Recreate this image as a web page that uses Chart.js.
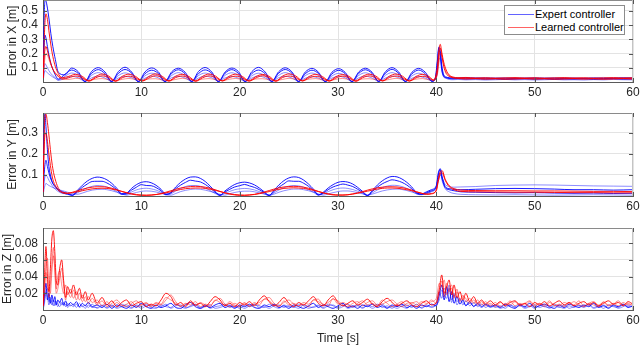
<!DOCTYPE html>
<html>
<head>
<meta charset="utf-8">
<script src="https://cdn.jsdelivr.net/npm/chart.js@4.4.1/dist/chart.umd.min.js"></script>
<style>
html,body{margin:0;padding:0;background:#fff;}
#wrap{position:relative;width:640px;height:347px;background:#fff;overflow:hidden;}
canvas{position:absolute;left:0;}
#legend{position:absolute;left:504px;top:5px;width:119px;height:28px;border:1px solid #8c8c8c;background:#fff;
 font-family:"Liberation Sans",Arial,sans-serif;font-size:11px;color:#000;z-index:5;}
#legend .ln{position:absolute;left:3px;width:26px;height:1px;}
#legend .tx{position:absolute;left:30px;white-space:nowrap;line-height:13px;}
</style>
</head>
<body>
<div id="wrap">
  <canvas id="c1" width="640" height="104" style="top:0px"></canvas>
  <canvas id="c2" width="640" height="106" style="top:112px"></canvas>
  <canvas id="c3" width="640" height="120" style="top:227px"></canvas>
  <div id="legend">
    <div class="ln" style="top:8px;background:rgba(60,60,255,0.8)"></div><div class="tx" style="top:2px">Expert controller</div>
    <div class="ln" style="top:21px;background:rgba(255,60,60,0.8)"></div><div class="tx" style="top:15px">Learned controller</div>
  </div>
</div>
<script>
// ---------------- Panel 1: Error in X ----------------
const tX = [0,0.1,0.2,0.3,0.45,0.6,0.8,1.0,1.25,
 1.55,2.23,2.91,3.59, 4.27,4.94,5.62,6.30, 6.98,7.66,8.34,9.02, 9.70,10.37,11.05,11.73, 12.41,13.09,13.77,14.45,
 15.13,15.81,16.49,17.16, 17.84,18.52,19.20,19.88, 20.56,21.24,21.92,22.60, 23.28,23.95,24.63,25.31,
 25.99,26.67,27.35,28.03, 28.71,29.39,30.07,30.74, 31.42,32.10,32.78,33.46, 34.14,34.82,35.50,36.18,
 36.86,37.53,38.21,38.89, 39.57,
 39.9,40.1,40.25,40.4,40.55,40.75,41.0,41.3,41.7,42.2,
 43,44,45,46,47,48,49,50,51,52,53,54,55,56,57,58,59,60];
const xBlue1 = [0.02,0.40,0.575,0.57,0.52,0.45,0.34,0.25,0.16,
 0.07,0.05,0.098,0.072, 0.004,0.074,0.101,0.071, 0.005,0.073,0.104,0.070, 0.003,0.071,0.099,0.072, 0.004,0.072,0.097,0.069,
 0.005,0.074,0.102,0.071, 0.003,0.070,0.098,0.073, 0.004,0.073,0.103,0.070, 0.005,0.071,0.100,0.072,
 0.004,0.070,0.096,0.068, 0.003,0.069,0.094,0.067, 0.004,0.070,0.097,0.069, 0.005,0.072,0.101,0.070,
 0.004,0.069,0.096,0.068, 0.006,
 0.025,0.13,0.245,0.22,0.12,0.05,0.035,0.03,0.028,0.027,
 0.03,0.026,0.028,0.025,0.027,0.024,0.026,0.028,0.025,0.027,0.024,0.026,0.025,0.027,0.024,0.026,0.028,0.027];
const xBlue2 = [0.01,0.22,0.33,0.31,0.25,0.19,0.13,0.09,0.05,
 0.02,0.055,0.084,0.060, 0.003,0.061,0.087,0.059, 0.004,0.060,0.088,0.062, 0.002,0.058,0.083,0.060, 0.003,0.061,0.086,0.058,
 0.004,0.059,0.085,0.061, 0.002,0.062,0.087,0.060, 0.003,0.060,0.084,0.058, 0.004,0.061,0.088,0.062,
 0.003,0.058,0.083,0.059, 0.002,0.057,0.082,0.058, 0.003,0.060,0.086,0.061, 0.004,0.062,0.089,0.060,
 0.003,0.058,0.084,0.057, 0.005,
 0.03,0.15,0.23,0.19,0.09,0.04,0.03,0.025,0.022,0.024,
 0.021,0.023,0.02,0.022,0.019,0.021,0.023,0.02,0.022,0.019,0.021,0.02,0.022,0.019,0.021,0.023,0.02,0.021];
const xBlue3 = [0,0.08,0.13,0.12,0.1,0.08,0.06,0.045,0.03,
 0.015,0.04,0.063,0.046, 0.004,0.047,0.066,0.045, 0.003,0.045,0.064,0.047, 0.005,0.044,0.062,0.046, 0.004,0.046,0.066,0.044,
 0.003,0.045,0.063,0.046, 0.005,0.047,0.065,0.045, 0.004,0.044,0.062,0.043, 0.003,0.046,0.066,0.047,
 0.004,0.045,0.063,0.044, 0.005,0.043,0.061,0.045, 0.003,0.046,0.065,0.046, 0.004,0.047,0.066,0.045,
 0.005,0.044,0.062,0.043, 0.006,
 0.02,0.09,0.19,0.2,0.1,0.045,0.03,0.027,0.026,0.03,
 0.028,0.031,0.027,0.03,0.028,0.031,0.029,0.027,0.03,0.028,0.031,0.029,0.027,0.03,0.032,0.029,0.031,0.03];
const xBlue4 = [0,0.05,0.08,0.075,0.065,0.055,0.045,0.035,0.025,
 0.012,0.025,0.04,0.03, 0.005,0.029,0.041,0.028, 0.004,0.028,0.039,0.03, 0.006,0.027,0.042,0.029, 0.005,0.03,0.04,0.028,
 0.004,0.028,0.041,0.03, 0.006,0.029,0.039,0.027, 0.005,0.028,0.042,0.029, 0.004,0.03,0.04,0.028,
 0.005,0.027,0.038,0.027, 0.006,0.028,0.04,0.029, 0.004,0.029,0.041,0.028, 0.005,0.028,0.042,0.03,
 0.006,0.027,0.039,0.027, 0.008,
 0.02,0.06,0.15,0.17,0.08,0.035,0.025,0.018,0.016,0.018,
 0.015,0.017,0.014,0.016,0.018,0.015,0.017,0.014,0.016,0.018,0.015,0.016,0.014,0.017,0.015,0.018,0.016,0.015];

const tXr = [0,0.1,0.2,0.3,0.45,0.6,0.8,1.0,1.25,1.55,
 1.95,2.63,3.31,3.99, 4.67,5.34,6.02,6.70, 7.38,8.06,8.74,9.42, 10.10,10.77,11.45,12.13, 12.81,13.49,14.17,14.85,
 15.53,16.21,16.89,17.56, 18.24,18.92,19.60,20.28, 20.96,21.64,22.32,23.00, 23.68,24.35,25.03,25.71,
 26.39,27.07,27.75,28.43, 29.11,29.79,30.47,31.14, 31.82,32.50,33.18,33.86, 34.54,35.22,35.90,36.58,
 37.26,37.93,38.61,39.29,
 39.7,40.1,40.25,40.4,40.55,40.75,41.0,41.3,41.7,42.2,
 43,44,45,46,47,48,49,50,51,52,53,54,55,56,57,58,59,60];
const xRed1 = [0,0.25,0.42,0.48,0.44,0.36,0.26,0.18,0.11,0.06,
 0.03,0.04,0.054,0.04, 0.008,0.038,0.056,0.041, 0.007,0.04,0.055,0.039, 0.009,0.039,0.057,0.04, 0.008,0.041,0.054,0.038,
 0.007,0.039,0.056,0.041, 0.009,0.04,0.055,0.039, 0.008,0.038,0.053,0.04, 0.007,0.041,0.057,0.042,
 0.009,0.039,0.054,0.038, 0.008,0.038,0.052,0.039, 0.007,0.04,0.055,0.041, 0.009,0.041,0.056,0.04,
 0.008,0.039,0.054,0.037,
 0.015,0.1,0.22,0.265,0.21,0.14,0.085,0.05,0.035,0.03,
 0.032,0.028,0.03,0.027,0.029,0.031,0.028,0.03,0.027,0.029,0.031,0.028,0.03,0.027,0.029,0.031,0.028,0.03];
const xRed2 = [0,0.15,0.23,0.25,0.22,0.18,0.13,0.09,0.06,0.04,
 0.02,0.03,0.042,0.03, 0.006,0.029,0.043,0.031, 0.005,0.03,0.041,0.029, 0.007,0.028,0.044,0.03, 0.006,0.031,0.042,0.028,
 0.005,0.029,0.043,0.031, 0.007,0.03,0.041,0.029, 0.006,0.028,0.044,0.03, 0.005,0.031,0.042,0.031,
 0.007,0.029,0.04,0.028, 0.006,0.028,0.041,0.029, 0.005,0.03,0.043,0.03, 0.007,0.031,0.042,0.029,
 0.006,0.029,0.04,0.028,
 0.012,0.07,0.18,0.24,0.19,0.11,0.06,0.04,0.03,0.026,
 0.023,0.025,0.022,0.024,0.021,0.023,0.025,0.022,0.024,0.021,0.023,0.025,0.022,0.024,0.021,0.023,0.025,0.022];
const xRed3 = [0,0.1,0.17,0.2,0.19,0.16,0.12,0.09,0.065,0.045,
 0.025,0.018,0.026,0.02, 0.012,0.02,0.024,0.016, 0.01,0.019,0.025,0.017, 0.013,0.021,0.023,0.015, 0.011,0.018,0.026,0.018,
 0.012,0.02,0.024,0.016, 0.01,0.019,0.025,0.017, 0.013,0.021,0.023,0.016, 0.011,0.018,0.026,0.018,
 0.012,0.02,0.024,0.015, 0.01,0.019,0.025,0.017, 0.013,0.021,0.023,0.016, 0.011,0.018,0.026,0.018,
 0.012,0.02,0.024,0.015,
 0.015,0.05,0.13,0.2,0.18,0.12,0.07,0.045,0.03,0.025,
 0.02,0.022,0.019,0.021,0.018,0.02,0.022,0.019,0.021,0.018,0.02,0.022,0.019,0.021,0.018,0.02,0.022,0.019];

// ---------------- Panel 2: Error in Y ----------------
const tY = [0,0.1,0.2,0.3,0.45,0.6,0.8,1.0,1.3,1.6,2.0,
 2.5,3,3.5,4,4.5,5,5.5,6,6.5,7, 7.5,8,8.5,9,9.5,10,10.5,11,11.5,12,
 12.5,13,13.5,14,14.5,15,15.5,16,16.5,17, 17.5,18,18.5,19,19.5,20,20.5,21,21.5,22,
 22.5,23,23.5,24,24.5,25,25.5,26,26.5,27, 27.5,28,28.5,29,29.5,30,30.5,31,31.5,32,
 32.5,33,33.5,34,34.5,35,35.5,36,36.5,37, 37.5,38,38.5,39,39.5,
 40,40.2,40.4,40.6,40.9,41.3,41.8,42.5,44,46,48,50,52,54,56,58,60];
const yBlue1 = [0,0.3,0.39,0.33,0.22,0.14,0.09,0.06,0.04,0.025,0.015,
 0.008,0.003,0.027,0.051,0.071,0.084,0.090,0.087,0.077,0.060,
 0.037,0.011,0.014,0.036,0.054,0.065,0.068,0.063,0.051,0.032,
 0.009,0.017,0.043,0.065,0.081,0.090,0.091,0.084,0.069,0.047,
 0.022,0.004,0.024,0.041,0.055,0.063,0.066,0.062,0.053,0.038,
 0.020,0.003,0.028,0.053,0.073,0.086,0.091,0.088,0.076,0.057,
 0.033,0.006,0.018,0.038,0.054,0.065,0.069,0.066,0.057,0.041,
 0.022,0.003,0.027,0.052,0.072,0.086,0.093,0.091,0.081,0.065,
 0.043,0.016,0.010,0.020,0.030,
 0.05,0.11,0.13,0.09,0.045,0.035,0.032,0.03,0.032,0.035,0.036,0.035,0.033,0.03,0.03,0.028,0.03];
const yBlue2 = [0,0.09,0.15,0.17,0.14,0.11,0.08,0.06,0.045,0.03,0.02,
 0.012,0.004,0.022,0.041,0.057,0.069,0.070,0.070,0.062,0.048,
 0.030,0.009,0.011,0.028,0.042,0.054,0.050,0.049,0.040,0.025,
 0.007,0.014,0.035,0.052,0.065,0.075,0.071,0.067,0.055,0.038,
 0.018,0.003,0.019,0.032,0.043,0.049,0.055,0.048,0.041,0.030,
 0.016,0.003,0.022,0.042,0.058,0.072,0.070,0.070,0.061,0.046,
 0.026,0.005,0.014,0.030,0.043,0.051,0.057,0.052,0.045,0.032,
 0.017,0.002,0.022,0.042,0.058,0.069,0.077,0.073,0.065,0.052,
 0.034,0.013,0.008,0.016,0.025,
 0.045,0.1,0.125,0.08,0.04,0.03,0.025,0.02,0.018,0.016,0.015,0.016,0.014,0.013,0.014,0.012,0.013];
const yBlue3 = [0,0.06,0.09,0.1,0.09,0.075,0.06,0.045,0.03,0.02,0.012,
 0.010,0.005,0.015,0.028,0.039,0.046,0.050,0.048,0.043,0.033,
 0.021,0.007,0.008,0.019,0.029,0.035,0.037,0.034,0.028,0.018,
 0.005,0.010,0.024,0.036,0.045,0.050,0.050,0.046,0.038,0.026,
 0.012,0.003,0.013,0.022,0.030,0.034,0.036,0.034,0.029,0.021,
 0.011,0.002,0.015,0.029,0.040,0.047,0.050,0.048,0.042,0.031,
 0.018,0.004,0.010,0.021,0.030,0.036,0.038,0.036,0.031,0.023,
 0.012,0.002,0.015,0.029,0.040,0.047,0.051,0.050,0.045,0.036,
 0.024,0.009,0.006,0.012,0.020,
 0.04,0.09,0.11,0.07,0.035,0.02,0.012,0.008,0.006,0.005,0.006,0.005,0.004,0.005,0.006,0.005,0.004];
const yBlue4 = [0,0.03,0.05,0.06,0.055,0.05,0.045,0.04,0.035,0.03,0.025,
 0.018,0.012,0.008,0.014,0.022,0.028,0.031,0.032,0.030,0.025,
 0.018,0.010,0.004,0.010,0.017,0.022,0.024,0.023,0.019,0.013,
 0.007,0.004,0.012,0.021,0.027,0.031,0.033,0.032,0.028,0.022,
 0.015,0.008,0.004,0.011,0.017,0.021,0.023,0.023,0.020,0.015,
 0.009,0.004,0.009,0.018,0.025,0.030,0.033,0.033,0.030,0.025,
 0.018,0.010,0.004,0.010,0.016,0.021,0.024,0.024,0.021,0.016,
 0.010,0.005,0.009,0.017,0.024,0.029,0.032,0.033,0.031,0.026,
 0.019,0.012,0.007,0.012,0.022,
 0.04,0.07,0.1,0.085,0.055,0.045,0.042,0.043,0.045,0.05,0.052,0.053,0.052,0.05,0.048,0.047,0.046];
const yRed1 = [0,0.25,0.38,0.39,0.35,0.29,0.2,0.13,0.07,0.035,0.015,
 0.012,0.018,0.025,0.032,0.038,0.042,0.044,0.044,0.042,0.037,
 0.030,0.022,0.015,0.009,0.005,0.003,0.003,0.004,0.007,0.012,
 0.018,0.025,0.032,0.038,0.042,0.045,0.046,0.045,0.042,0.037,
 0.030,0.022,0.015,0.009,0.005,0.003,0.003,0.005,0.008,0.013,
 0.019,0.026,0.033,0.039,0.043,0.045,0.046,0.045,0.042,0.037,
 0.030,0.022,0.015,0.009,0.005,0.004,0.004,0.006,0.010,0.015,
 0.021,0.028,0.034,0.039,0.042,0.044,0.044,0.043,0.040,0.035,
 0.028,0.020,0.013,0.008,0.010,
 0.03,0.08,0.115,0.12,0.08,0.05,0.035,0.028,0.026,0.025,0.025,0.024,0.024,0.023,0.022,0.022,0.021];
const yRed2 = [0,0.2,0.29,0.3,0.26,0.2,0.13,0.08,0.045,0.025,0.018,
 0.014,0.016,0.020,0.025,0.030,0.034,0.036,0.037,0.036,0.033,
 0.028,0.022,0.016,0.011,0.007,0.005,0.004,0.005,0.007,0.010,
 0.015,0.020,0.026,0.031,0.035,0.037,0.038,0.038,0.036,0.032,
 0.027,0.021,0.015,0.010,0.007,0.005,0.004,0.005,0.007,0.011,
 0.016,0.021,0.027,0.032,0.036,0.038,0.039,0.038,0.036,0.032,
 0.027,0.021,0.015,0.010,0.007,0.005,0.005,0.006,0.009,0.013,
 0.018,0.023,0.028,0.033,0.036,0.038,0.038,0.037,0.034,0.030,
 0.025,0.019,0.013,0.009,0.012,
 0.025,0.07,0.105,0.11,0.075,0.045,0.03,0.022,0.02,0.019,0.018,0.018,0.017,0.016,0.016,0.015,0.015];

// ---------------- Panel 3: Error in Z ----------------
const tZ = [0,0.15,0.3,0.45,0.6,0.75,0.9,1.05,1.2,1.35,1.5,1.7,1.9,2.1,2.3,2.5,2.8,3.1,3.4,3.7,4.0,4.3,4.6,5.0,
 5.5,6,6.5,7,7.5,8,8.5,9,9.5,10, 10.5,11,11.5,12,12.5,13,13.5,14,14.5,15,
 15.5,16,16.5,17,17.5,18,18.5,19,19.5,20, 20.5,21,21.5,22,22.5,23,23.5,24,24.5,25,
 25.5,26,26.5,27,27.5,28,28.5,29,29.5,30, 30.5,31,31.5,32,32.5,33,33.5,34,34.5,35,
 35.5,36,36.5,37,37.5,38,38.5,39,39.5,40,
 40.3,40.55,40.8,41.05,41.3,41.55,41.8,42.1,42.4,42.7,43.0,43.4,43.8,44.2,44.6,45.0,
 45.5,46,46.5,47,47.5,48,48.5,49,49.5,50, 50.5,51,51.5,52,52.5,53,53.5,54,54.5,55,
 55.5,56,56.5,57,57.5,58,58.5,59,59.5,60];
const zRed1 = [0,0.04,0.076,0.04,0.022,0.05,0.085,0.095,0.07,0.035,0.03,0.05,0.06,0.035,0.015,0.028,0.02,0.03,0.018,0.026,0.014,0.022,0.012,0.02,
 0.008,0.015,0.006,0.011,0.004,0.009,0.012,0.005,0.008,0.010,
 0.004,0.007,0.005,0.012,0.020,0.016,0.006,0.009,0.004,0.011,
 0.006,0.008,0.004,0.010,0.016,0.012,0.005,0.008,0.004,0.009,
 0.006,0.010,0.005,0.012,0.017,0.010,0.005,0.009,0.015,0.008,
 0.004,0.009,0.006,0.011,0.016,0.008,0.005,0.012,0.017,0.009,
 0.005,0.008,0.011,0.006,0.009,0.013,0.007,0.004,0.010,0.014,
 0.009,0.005,0.008,0.011,0.006,0.004,0.008,0.011,0.006,0.009,
 0.025,0.042,0.02,0.028,0.036,0.018,0.03,0.015,0.022,0.012,0.02,0.01,0.016,0.008,0.012,0.007,
 0.011,0.006,0.01,0.005,0.009,0.011,0.006,0.008,0.004,0.009,0.006,0.01,0.005,0.008,0.011,
 0.006,0.009,0.005,0.008,0.01,0.006,0.009,0.005,0.008,0.011,0.007,0.009,0.005,0.01,0.007];
const zRed2 = [0,0.03,0.05,0.062,0.03,0.02,0.045,0.065,0.05,0.025,0.04,0.047,0.03,0.02,0.03,0.018,0.025,0.014,0.022,0.012,0.018,0.01,0.016,0.009,
 0.012,0.005,0.010,0.004,0.009,0.005,0.007,0.010,0.004,0.006,
 0.009,0.004,0.008,0.006,0.012,0.018,0.010,0.005,0.008,0.006,
 0.010,0.004,0.007,0.006,0.011,0.014,0.007,0.004,0.008,0.005,
 0.009,0.004,0.007,0.009,0.013,0.015,0.008,0.005,0.009,0.012,
 0.007,0.005,0.009,0.007,0.012,0.013,0.006,0.009,0.013,0.011,
 0.006,0.004,0.008,0.010,0.005,0.009,0.011,0.006,0.007,0.010,
 0.012,0.007,0.004,0.008,0.009,0.006,0.010,0.008,0.010,0.014,
 0.032,0.028,0.036,0.018,0.024,0.03,0.016,0.022,0.012,0.018,0.01,0.014,0.008,0.012,0.006,0.01,
 0.005,0.009,0.004,0.008,0.006,0.01,0.005,0.008,0.011,0.006,0.008,0.004,0.009,0.006,0.005,
 0.009,0.007,0.01,0.006,0.004,0.008,0.01,0.006,0.009,0.005,0.007,0.011,0.006,0.008,0.005];
const zRed3 = [0,0.02,0.045,0.03,0.015,0.03,0.055,0.075,0.045,0.02,0.025,0.038,0.05,0.028,0.012,0.022,0.015,0.024,0.012,0.02,0.01,0.016,0.008,0.014,
 0.006,0.011,0.004,0.008,0.012,0.006,0.004,0.008,0.011,0.006,
 0.008,0.005,0.009,0.007,0.015,0.012,0.008,0.004,0.007,0.009,
 0.005,0.009,0.006,0.004,0.012,0.009,0.006,0.010,0.006,0.004,
 0.008,0.005,0.009,0.006,0.013,0.011,0.006,0.004,0.011,0.006,
 0.008,0.005,0.007,0.004,0.012,0.010,0.007,0.005,0.014,0.007,
 0.009,0.006,0.004,0.008,0.011,0.006,0.008,0.005,0.012,0.008,
 0.004,0.007,0.010,0.005,0.008,0.010,0.005,0.007,0.012,0.008,
 0.02,0.035,0.016,0.032,0.022,0.026,0.014,0.025,0.01,0.016,0.014,0.008,0.012,0.006,0.01,0.005,
 0.008,0.004,0.009,0.006,0.011,0.005,0.008,0.006,0.01,0.004,0.008,0.006,0.011,0.005,0.007,
 0.004,0.009,0.006,0.011,0.005,0.008,0.006,0.004,0.01,0.006,0.008,0.005,0.009,0.006,0.008];
const zBlue1 = [0,0.018,0.032,0.012,0.02,0.008,0.018,0.01,0.016,0.006,0.012,0.009,0.014,0.006,0.011,0.005,0.009,0.006,0.01,0.004,0.008,0.005,0.009,0.004,
 0.006,0.003,0.007,0.002,0.006,0.004,0.002,0.006,0.003,0.008,
 0.004,0.002,0.006,0.003,0.005,0.008,0.003,0.002,0.006,0.009,
 0.004,0.002,0.005,0.003,0.006,0.008,0.003,0.005,0.002,0.006,
 0.004,0.007,0.003,0.002,0.006,0.004,0.007,0.003,0.005,0.002,
 0.006,0.004,0.002,0.005,0.008,0.003,0.006,0.004,0.002,0.005,
 0.008,0.003,0.005,0.002,0.006,0.004,0.007,0.003,0.005,0.002,
 0.006,0.004,0.007,0.003,0.005,0.002,0.006,0.004,0.007,0.005,
 0.018,0.03,0.012,0.028,0.01,0.022,0.008,0.016,0.007,0.012,0.005,0.01,0.004,0.008,0.004,0.007,
 0.004,0.006,0.003,0.007,0.004,0.002,0.006,0.004,0.008,0.003,0.005,0.007,0.004,0.002,0.006,
 0.003,0.007,0.005,0.003,0.006,0.004,0.008,0.003,0.005,0.002,0.006,0.004,0.007,0.003,0.005];
const zBlue2 = [0,0.012,0.02,0.026,0.01,0.015,0.006,0.012,0.005,0.01,0.007,0.004,0.009,0.005,0.007,0.003,0.006,0.004,0.007,0.003,0.005,0.002,0.006,0.003,
 0.003,0.006,0.002,0.005,0.003,0.007,0.004,0.002,0.006,0.004,
 0.007,0.003,0.002,0.006,0.004,0.003,0.007,0.004,0.002,0.005,
 0.007,0.003,0.006,0.002,0.004,0.005,0.007,0.003,0.005,0.002,
 0.006,0.004,0.006,0.005,0.003,0.007,0.004,0.002,0.006,0.004,
 0.003,0.007,0.005,0.002,0.004,0.006,0.003,0.007,0.005,0.002,
 0.004,0.007,0.003,0.005,0.002,0.006,0.004,0.007,0.003,0.005,
 0.002,0.006,0.004,0.002,0.006,0.004,0.003,0.006,0.004,0.008,
 0.022,0.014,0.026,0.02,0.03,0.012,0.018,0.01,0.014,0.006,0.011,0.005,0.009,0.004,0.007,0.003,
 0.006,0.003,0.005,0.002,0.006,0.004,0.007,0.003,0.005,0.002,0.006,0.004,0.003,0.007,0.004,
 0.002,0.005,0.003,0.006,0.004,0.007,0.003,0.005,0.002,0.006,0.004,0.003,0.006,0.004,0.005];
const zBlue3 = [0,0.008,0.022,0.016,0.006,0.012,0.01,0.005,0.011,0.008,0.004,0.01,0.006,0.009,0.004,0.008,0.005,0.007,0.003,0.008,0.004,0.006,0.003,0.007,
 0.002,0.005,0.003,0.006,0.002,0.004,0.006,0.003,0.005,0.002,
 0.005,0.006,0.003,0.004,0.007,0.002,0.005,0.006,0.003,0.004,
 0.006,0.002,0.004,0.006,0.002,0.003,0.005,0.006,0.003,0.004,
 0.002,0.005,0.007,0.003,0.004,0.002,0.005,0.006,0.003,0.005,
 0.004,0.002,0.006,0.004,0.003,0.005,0.002,0.005,0.006,0.003,
 0.006,0.002,0.004,0.006,0.003,0.005,0.002,0.005,0.007,0.003,
 0.004,0.002,0.005,0.006,0.003,0.007,0.002,0.005,0.003,0.006,
 0.012,0.024,0.018,0.014,0.026,0.009,0.02,0.006,0.012,0.009,0.006,0.008,0.005,0.006,0.003,0.006,
 0.003,0.005,0.002,0.004,0.006,0.003,0.005,0.002,0.004,0.006,0.003,0.005,0.002,0.005,0.003,
 0.006,0.002,0.004,0.005,0.003,0.006,0.002,0.004,0.006,0.003,0.005,0.002,0.004,0.006,0.003];

// axis ticks
const xTicks = [0,10,20,30,40,50,60];
const yTicksX = [0.1,0.2,0.3,0.4,0.5];
const yTicksY = [0.1,0.2,0.3];
const yTicksZ = [0.02,0.04,0.06,0.08];

// ---------------- rendering ----------------
const FONT = '"Liberation Sans", Arial, Helvetica, sans-serif';
const TXT = '#262626';
const BLUE = 'rgba(0,0,255,0.9)', BLUE_L = 'rgba(0,0,255,0.45)';
const RED = 'rgba(255,0,0,0.9)', RED_L = 'rgba(255,0,0,0.45)';

function series(t, v, color, w){
  return {data: t.map((x,i)=>({x:x, y:v[i]})), borderColor: color, borderWidth: w||1,
    pointRadius:0, fill:false, cubicInterpolationMode:'monotone'};
}

const frame = {
  id:'frame',
  afterDatasetsDraw(chart){
    const {ctx, chartArea:a, scales:{x,y}} = chart;
    ctx.save();
    ctx.lineWidth = 1;
    ctx.strokeStyle = '#8a8a8a';
    ctx.beginPath(); ctx.moveTo(a.left, a.top+0.5); ctx.lineTo(a.right, a.top+0.5); ctx.stroke();
    ctx.strokeStyle = '#c4c4c4';
    ctx.beginPath(); ctx.moveTo(a.right-0.5, a.top); ctx.lineTo(a.right-0.5, a.bottom); ctx.stroke();
    ctx.strokeStyle = '#555';
    ctx.beginPath();
    x.ticks.forEach(tk=>{
      const px = Math.round(x.getPixelForValue(tk.value))+0.5;
      ctx.moveTo(px, a.top); ctx.lineTo(px, a.top+4);
      ctx.moveTo(px, a.bottom); ctx.lineTo(px, a.bottom-4);
    });
    y.ticks.forEach(tk=>{
      if (tk.value === 0) return;
      const py = Math.round(y.getPixelForValue(tk.value))+0.5;
      ctx.moveTo(a.left, py); ctx.lineTo(a.left+4, py);
      ctx.moveTo(a.right, py); ctx.lineTo(a.right-4, py);
    });
    ctx.stroke();
    ctx.restore();
  }
};

function panel(id, datasets, yMax, yTicks, yTitle, opts){
  const ctx = document.getElementById(id);
  new Chart(ctx, {
    type:'line',
    data:{datasets},
    plugins:[frame],
    options:{
      responsive:false, animation:false, events:[],
      layout:{padding:{top:opts.padTop, right:7, left:0, bottom:0}},
      plugins:{legend:{display:false}, tooltip:{enabled:false}},
      scales:{
        x:{type:'linear', min:0, max:60,
          afterBuildTicks(s){ s.ticks = xTicks.map(v=>({value:v})); },
          ticks:{font:{family:FONT,size:12}, color:TXT, padding:3, maxRotation:0, autoSkip:false,
            callback:v=>String(v)},
          grid:{color:'#e3e3e3', drawTicks:false},
          border:{color:'#5a5a5a', width:1},
          title: opts.xTitle ? {display:true, text:opts.xTitle, color:TXT, font:{family:FONT,size:12}, padding:{top:0,bottom:1}} : {display:false},
          afterFit(s){ s.height = opts.xH; s.paddingLeft = 0; s.paddingRight = 0; }
        },
        y:{type:'linear', min:0, max:yMax,
          afterBuildTicks(s){ s.ticks = [0].concat(yTicks).map(v=>({value:v})); },
          ticks:{font:{family:FONT,size:12}, color:TXT, padding:5, autoSkip:false,
            callback:v=> v===0 ? '' : String(v)},
          grid:{color:'#e3e3e3', drawTicks:false},
          border:{color:'#5a5a5a', width:1},
          title:{display:true, text:yTitle, color:TXT, font:{family:FONT,size:12}, padding:{top:opts.titlePad,bottom:0}},
          afterFit(s){ s.width = 43; s.paddingTop = 0; s.paddingBottom = 0; }
        }
      }
    }
  });
}

panel('c1', [
  series(tXr, xRed3, RED_L), series(tXr, xRed2, RED), series(tXr, xRed1, RED),
  series(tX, xBlue4, BLUE_L), series(tX, xBlue3, BLUE_L), series(tX, xBlue2, BLUE), series(tX, xBlue1, BLUE)
], 0.577, yTicksX, 'Error in X [m]', {padTop:0, xH:22, titlePad:5});

panel('c2', [
  series(tY, yRed2, RED), series(tY, yRed1, RED),
  series(tY, yBlue4, BLUE_L), series(tY, yBlue3, BLUE_L), series(tY, yBlue2, BLUE), series(tY, yBlue1, BLUE)
], 0.395, yTicksY, 'Error in Y [m]', {padTop:1, xH:22, titlePad:5});

panel('c3', [
  series(tZ, zRed3, RED_L), series(tZ, zRed2, RED_L), series(tZ, zRed1, RED),
  series(tZ, zBlue3, BLUE_L), series(tZ, zBlue2, BLUE_L), series(tZ, zBlue1, BLUE)
], 0.0982, yTicksZ, 'Error in Z [m]', {padTop:1, xH:37, titlePad:0, xTitle:'Time [s]'});
</script>
</body>
</html>
